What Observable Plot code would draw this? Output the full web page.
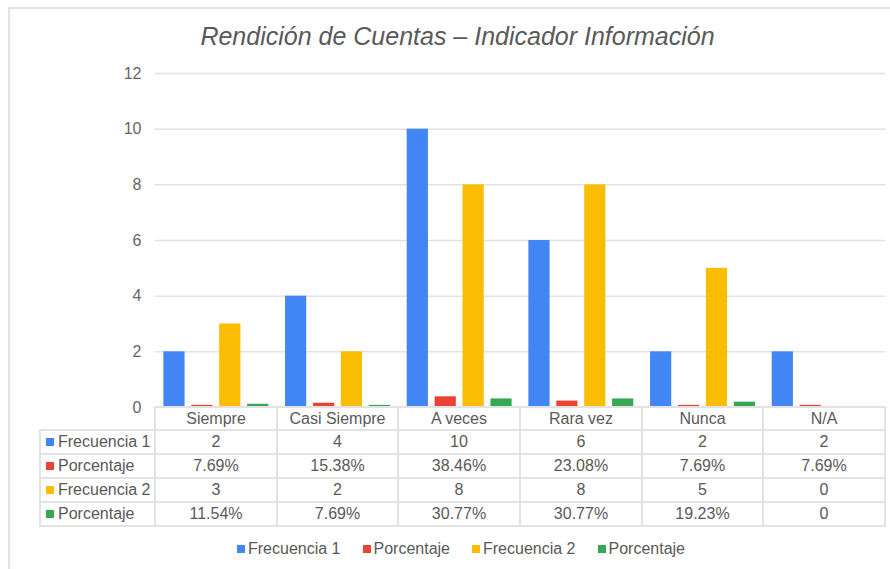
<!DOCTYPE html>
<html>
<head>
<meta charset="utf-8">
<script src="https://cdn.jsdelivr.net/npm/d3@7"></script>
<script src="https://cdn.jsdelivr.net/npm/@observablehq/plot@0.6"></script>
<style>
  html, body { margin: 0; padding: 0; background: #fff; }
  body { width: 890px; height: 569px; overflow: hidden; position: relative;
         font-family: "Liberation Sans", Arial, sans-serif; }
  #frame { position: absolute; left: 8px; top: 7px; width: 1000px; height: 700px;
           border-left: 2px solid #e3e3e3; border-top: 2px solid #e3e3e3; }
  #title { position: absolute; left: 0; width: 915px; top: 21px; text-align: center;
           font-style: italic; font-size: 25px; color: #595959; line-height: 30px; white-space: nowrap; }
  #chart { position: absolute; left: 0; top: 60px; }
  .hl { position: absolute; height: 2px; background: #e2e2e2; }
  .vl { position: absolute; width: 2px; background: #e2e2e2; }
  .cell { position: absolute; text-align: center; font-size: 16px; color: #595959; white-space: nowrap; }
  .lab { position: absolute; font-size: 16px; color: #595959; white-space: nowrap; }
  .sw { display: inline-block; width: 8px; height: 8px; margin-right: 4px; vertical-align: 1px; }
  #legend { position: absolute; left: 0; width: 922px; top: 539px; display: flex; justify-content: center;
            font-size: 16px; color: #595959; line-height: 20px; }
  #legend .item { margin: 0 11px; white-space: nowrap; }
  #legend .sw { margin-right: 3px; }
</style>
</head>
<body>
<div id="frame"></div>
<div id="title">Rendición de Cuentas – Indicador Información</div>
<div id="chart"></div>
<div id="table"></div>
<div id="legend"></div>
<script>
// ---- data ----
const categories = ["Siempre", "Casi Siempre", "A veces", "Rara vez", "Nunca", "N/A"];
const frecuencia1 = [2, 4, 10, 6, 2, 2];
const porcentaje1 = [7.69, 15.38, 38.46, 23.08, 7.69, 7.69];
const frecuencia2 = [3, 2, 8, 8, 5, 0];
const porcentaje2 = [11.54, 7.69, 30.77, 30.77, 19.23, 0];
const seriesKeys = ["f1", "p1", "f2", "p2"];
const seriesLabels = ["Frecuencia 1", "Porcentaje", "Frecuencia 2", "Porcentaje"];
const seriesColors = ["#4285F4", "#EA4335", "#FBBC04", "#34A853"];
const yTicks = [0, 2, 4, 6, 8, 10, 12];

// ---- build rows ----
const rows = categories.flatMap((cat, i) => [
  {cat, s: "f1", v: frecuencia1[i]},
  {cat, s: "p1", v: porcentaje1[i] / 100},
  {cat, s: "f2", v: frecuencia2[i]},
  {cat, s: "p2", v: porcentaje2[i] / 100}
]);

const W = 890, ML = 155, MR = 5;
const font = "'Liberation Sans', Arial, sans-serif";

const plot = Plot.plot({
  width: W,
  height: 357,
  marginLeft: ML,
  marginRight: MR,
  marginTop: 13,
  marginBottom: 10,
  style: {fontSize: "16px", fontFamily: font, color: "#666", background: "transparent", overflow: "visible"},
  facet: {data: rows, x: "cat"},
  fx: {domain: categories, padding: 0, round: false, axis: null, label: null},
  x: {domain: seriesKeys, paddingInner: 0.24, paddingOuter: 0.3, round: false, axis: null},
  y: {domain: [0, 12], ticks: 6, tickSize: 0, tickPadding: 14, label: null, tickFormat: d => String(d)},
  color: {domain: seriesKeys, range: seriesColors},
  marks: [
    Plot.ruleY(yTicks.filter(d => d > 0), {stroke: "#e2e2e2", strokeWidth: 1.5}),
    Plot.barY(rows, {x: "s", y: "v", fill: "s"})
  ]
});
document.getElementById("chart").appendChild(plot);

// ---- data table aligned with the fx scale ----
const fx = plot.scale("fx");
const band = d3.scaleBand().domain(categories).range(fx && fx.range ? fx.range : [ML, W - MR]).padding(0);
const colLeft = c => Math.round(fx && fx.apply ? fx.apply(c) : band(c));
const bwRaw = fx && fx.bandwidth ? fx.bandwidth : band.bandwidth();
const colRight = c => Math.round((fx && fx.apply ? fx.apply(c) : band(c)) + bwRaw);
const tbl = document.getElementById("table");
const tableLeft = 40, tableRight = colRight(categories[categories.length - 1]);
const rowEdges = [407, 430, 454, 478, 502, 526];
function addDiv(cls, style, html) {
  const d = document.createElement("div");
  d.className = cls;
  Object.assign(d.style, style);
  if (html != null) d.innerHTML = html;
  tbl.appendChild(d);
  return d;
}
// horizontal lines
rowEdges.forEach((y, i) => {
  const x0 = i === 0 ? colLeft(categories[0]) : tableLeft;
  addDiv("hl", {left: (x0 - 1) + "px", top: (y - 1) + "px", width: (tableRight - x0 + 2) + "px"});
});
// vertical lines
addDiv("vl", {left: (tableLeft - 1) + "px", top: (rowEdges[1] - 1) + "px", height: (rowEdges[5] - rowEdges[1] + 2) + "px"});
categories.forEach(c => {
  addDiv("vl", {left: (colLeft(c) - 1) + "px", top: (rowEdges[0] - 1) + "px", height: (rowEdges[5] - rowEdges[0] + 2) + "px"});
});
addDiv("vl", {left: (tableRight - 1) + "px", top: (rowEdges[0] - 1) + "px", height: (rowEdges[5] - rowEdges[0] + 2) + "px"});

const fmtPct = p => p === 0 ? "0" : p.toFixed(2) + "%";
const tableRows = [
  frecuencia1.map(String),
  porcentaje1.map(fmtPct),
  frecuencia2.map(String),
  porcentaje2.map(fmtPct)
];
// header
categories.forEach(c => {
  addDiv("cell", {left: colLeft(c) + "px", width: (colRight(c) - colLeft(c)) + "px", top: rowEdges[0] + "px",
    height: (rowEdges[1] - rowEdges[0]) + "px", lineHeight: (rowEdges[1] - rowEdges[0]) + "px"}, c);
});
tableRows.forEach((vals, r) => {
  const top = rowEdges[r + 1], h = rowEdges[r + 2] - rowEdges[r + 1];
  addDiv("lab", {left: (tableLeft + 6) + "px", top: top + "px", height: h + "px", lineHeight: h + "px"},
    `<span class="sw" style="background:${seriesColors[r]}"></span>${seriesLabels[r]}`);
  vals.forEach((v, i) => {
    const c = categories[i];
    addDiv("cell", {left: colLeft(c) + "px", width: (colRight(c) - colLeft(c)) + "px", top: top + "px",
      height: h + "px", lineHeight: h + "px"}, v);
  });
});

// ---- legend ----
const leg = document.getElementById("legend");
seriesLabels.forEach((lab, i) => {
  const it = document.createElement("div");
  it.className = "item";
  it.innerHTML = `<span class="sw" style="background:${seriesColors[i]}"></span>${lab}`;
  leg.appendChild(it);
});
</script>
</body>
</html>
